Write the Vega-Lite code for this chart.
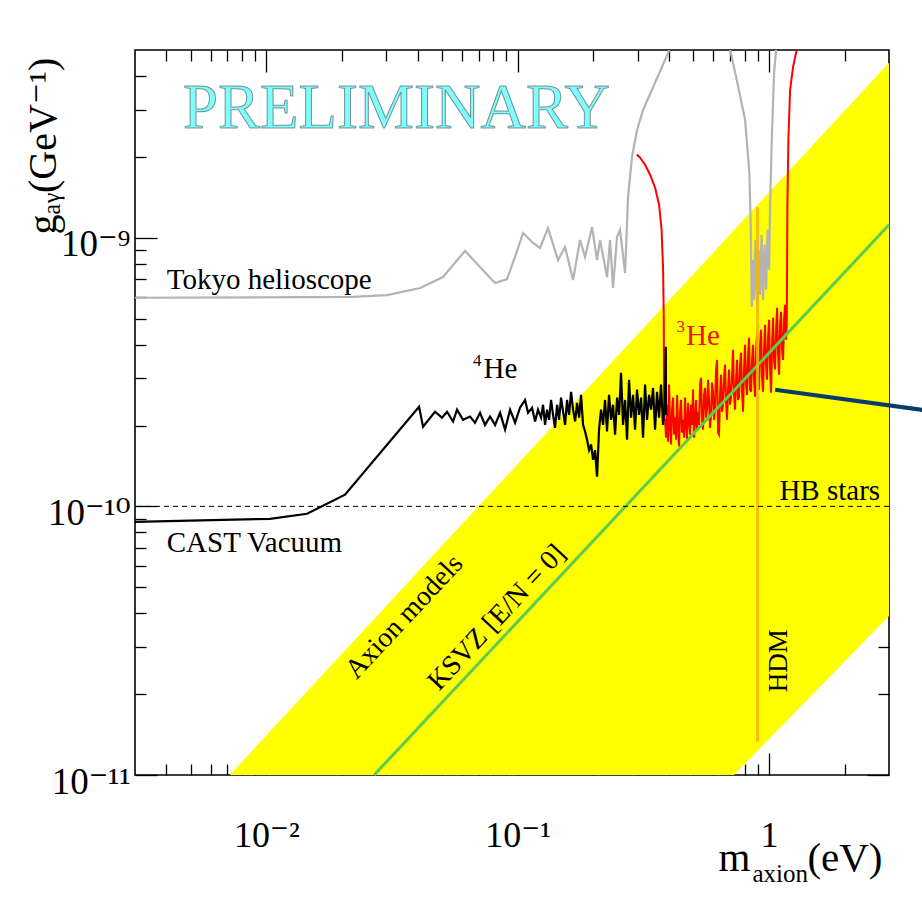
{
  "$schema": "https://vega.github.io/schema/vega-lite/v6.json",
  "width": 754,
  "height": 725,
  "autosize": {"type": "none"},
  "padding": {"left": 135, "top": 50, "right": 33, "bottom": 124},
  "background": "white",
  "config": {
    "font": "Liberation Serif, DejaVu Serif, serif",
    "view": {"stroke": "#000000", "strokeWidth": 1.6},
    "axis": {"tickColor": "#000000", "tickWidth": 1.3, "domain": false, "grid": false, "labelColor": "#000000", "titleColor": "#000000", "titleFontWeight": "normal", "labelOverlap": false, "labelFlush": false, "labelBound": false}
  },
  "datasets": {
    "band": [
      {"m": 0.00715, "lo": 1e-11, "hi": 1e-11},
      {"m": 0.7246, "lo": 1e-11, "hi": 1.066e-9},
      {"m": 3, "lo": 3.91e-11, "hi": 4.48e-9}
    ],
    "ksvz": [
      {"m": 0.02683, "g": 1e-11},
      {"m": 3, "g": 1.117e-9}
    ],
    "tokyo1": [
      {"m": 0.003, "g": 5.98e-10}, {"m": 0.0221, "g": 6.02e-10}, {"m": 0.0302, "g": 6.12e-10}, {"m": 0.0409, "g": 6.5e-10}, {"m": 0.0504, "g": 7.14e-10}, {"m": 0.0617, "g": 8.93e-10}, {"m": 0.0812, "g": 6.78e-10}, {"m": 0.0907, "g": 7.02e-10}, {"m": 0.0975, "g": 8.48e-10}, {"m": 0.105, "g": 1.042e-9}, {"m": 0.115, "g": 9.56e-10}, {"m": 0.1226, "g": 9.16e-10}, {"m": 0.1319, "g": 1.087e-9}, {"m": 0.1446, "g": 8.26e-10}, {"m": 0.1542, "g": 9.24e-10}, {"m": 0.166, "g": 6.96e-10}, {"m": 0.1769, "g": 9.81e-10}, {"m": 0.1852, "g": 8.48e-10}, {"m": 0.1975, "g": 1.096e-9}, {"m": 0.2068, "g": 8.26e-10}, {"m": 0.2126, "g": 9.81e-10}, {"m": 0.2266, "g": 7.14e-10}, {"m": 0.2329, "g": 9.81e-10}, {"m": 0.2394, "g": 6.5e-10}, {"m": 0.2483, "g": 1.006e-9}, {"m": 0.2553, "g": 1.069e-9}, {"m": 0.2673, "g": 7.39e-10}, {"m": 0.2747, "g": 1.418e-9}, {"m": 0.2849, "g": 2.0e-9}, {"m": 0.2983, "g": 2.52e-9}, {"m": 0.3151, "g": 2.99e-9}, {"m": 0.3963, "g": 4.87e-9}, {"m": 0.4111, "g": 5.45e-9}
    ],
    "tokyo2": [
      {"m": 0.6932, "g": 5.23e-9}, {"m": 0.7437, "g": 3.87e-9}, {"m": 0.8026, "g": 2.75e-9}, {"m": 0.8348, "g": 1.746e-9}, {"m": 0.8456, "g": 1.099e-9}, {"m": 0.8533, "g": 5.53e-10}, {"m": 0.8636, "g": 8.28e-10}, {"m": 0.8715, "g": 5.88e-10}, {"m": 0.8837, "g": 9.83e-10}, {"m": 0.896, "g": 5.63e-10}, {"m": 0.9083, "g": 9.02e-10}, {"m": 0.9209, "g": 6.13e-10}, {"m": 0.9336, "g": 1.026e-9}, {"m": 0.9465, "g": 5.88e-10}, {"m": 0.9596, "g": 9.42e-10}, {"m": 0.9729, "g": 6.4e-10}, {"m": 0.9863, "g": 1.071e-9}, {"m": 1.0, "g": 7.6e-10}, {"m": 1.0092, "g": 1.304e-9}, {"m": 1.025, "g": 2.32e-9}, {"m": 1.0469, "g": 4.11e-9}, {"m": 1.0663, "g": 5.01e-9}, {"m": 1.0761, "g": 5.23e-9}
    ],
    "he4": [
      {"m": 0.003, "g": 8.76e-11}, {"m": 0.01033, "g": 8.99e-11}, {"m": 0.01451, "g": 9.39e-11}, {"m": 0.02055, "g": 1.105e-10}, {"m": 0.04049, "g": 2.35e-10}, {"m": 0.04199, "g": 1.98e-10}, {"m": 0.04686, "g": 2.25e-10}, {"m": 0.04997, "g": 2.14e-10}, {"m": 0.05232, "g": 2.25e-10}, {"m": 0.05528, "g": 2.07e-10}, {"m": 0.05735, "g": 2.29e-10}, {"m": 0.06058, "g": 2.1e-10}, {"m": 0.06458, "g": 2.16e-10}, {"m": 0.06761, "g": 2.05e-10}, {"m": 0.07079, "g": 2.23e-10}, {"m": 0.07411, "g": 2.01e-10}, {"m": 0.07759, "g": 2.16e-10}, {"m": 0.08123, "g": 2.01e-10}, {"m": 0.08505, "g": 2.23e-10}, {"m": 0.08904, "g": 1.93e-10}, {"m": 0.09321, "g": 2.29e-10}, {"m": 0.09757, "g": 2.05e-10}, {"m": 0.1021, "g": 2.33e-10}, {"m": 0.1069, "g": 2.49e-10}, {"m": 0.1099, "g": 2.23e-10}, {"m": 0.114, "g": 2.33e-10}, {"m": 0.1172, "g": 2.07e-10}, {"m": 0.1204, "g": 2.29e-10},
      {"m": 0.1238, "g": 2.14e-10}, {"m": 0.1261, "g": 2.39e-10}, {"m": 0.1284, "g": 2.01e-10}, {"m": 0.1308, "g": 2.29e-10}, {"m": 0.1332, "g": 2.1e-10}, {"m": 0.1357, "g": 2.49e-10}, {"m": 0.1382, "g": 2.19e-10}, {"m": 0.1407, "g": 1.96e-10}, {"m": 0.1434, "g": 2.39e-10}, {"m": 0.146, "g": 2.1e-10}, {"m": 0.1487, "g": 2.54e-10}, {"m": 0.1515, "g": 2.25e-10}, {"m": 0.1543, "g": 2.01e-10}, {"m": 0.1571, "g": 2.49e-10}, {"m": 0.16, "g": 2.19e-10}, {"m": 0.163, "g": 2.67e-10}, {"m": 0.166, "g": 2.29e-10}, {"m": 0.1691, "g": 2.07e-10}, {"m": 0.1722, "g": 2.43e-10}, {"m": 0.1754, "g": 2.14e-10}, {"m": 0.1786, "g": 2.6e-10}, {"m": 0.1819, "g": 2.01e-10}, {"m": 0.1853, "g": 1.9e-10}, {"m": 0.1887, "g": 1.77e-10}, {"m": 0.1922, "g": 1.62e-10}, {"m": 0.1957, "g": 1.7e-10}, {"m": 0.1994, "g": 1.491e-10}, {"m": 0.203, "g": 1.62e-10}, {"m": 0.2068, "g": 1.29e-10}, {"m": 0.2106, "g": 1.93e-10}, {"m": 0.2145, "g": 2.29e-10}, {"m": 0.2185, "g": 2.01e-10}, {"m": 0.2225, "g": 2.49e-10}, {"m": 0.2266, "g": 1.9e-10}, {"m": 0.2308, "g": 2.6e-10}, {"m": 0.2351, "g": 2.1e-10}, {"m": 0.2394, "g": 2.39e-10}, {"m": 0.2439, "g": 1.85e-10}, {"m": 0.2484, "g": 2.54e-10}, {"m": 0.253, "g": 2.19e-10}, {"m": 0.2576, "g": 3.14e-10}, {"m": 0.2624, "g": 2.01e-10}, {"m": 0.2673, "g": 2.49e-10}, {"m": 0.2722, "g": 1.77e-10}, {"m": 0.2772, "g": 2.96e-10}, {"m": 0.2824, "g": 2.14e-10}, {"m": 0.2876, "g": 2.6e-10}, {"m": 0.2929, "g": 1.93e-10}, {"m": 0.2983, "g": 2.72e-10}, {"m": 0.3038, "g": 2.19e-10}, {"m": 0.3095, "g": 2.54e-10}, {"m": 0.3152, "g": 1.8e-10}, {"m": 0.321, "g": 2.84e-10}, {"m": 0.3269, "g": 2.1e-10}, {"m": 0.333, "g": 2.6e-10}, {"m": 0.3391, "g": 2.29e-10}, {"m": 0.3454, "g": 2.76e-10}, {"m": 0.3518, "g": 1.93e-10}, {"m": 0.3583, "g": 2.67e-10}, {"m": 0.3649, "g": 2.14e-10}, {"m": 0.3716, "g": 2.84e-10}, {"m": 0.3785, "g": 2.01e-10}, {"m": 0.3855, "g": 2.49e-10}, {"m": 0.3881, "g": 3.93e-10}, {"m": 0.3891, "g": 2.19e-10}
    ],
    "he3": [
      {"m": 0.2975, "g": 2.04e-9}, {"m": 0.3067, "g": 1.986e-9}, {"m": 0.3211, "g": 1.87e-9}, {"m": 0.3362, "g": 1.716e-9}, {"m": 0.352, "g": 1.535e-9}, {"m": 0.365, "g": 1.327e-9}, {"m": 0.3735, "g": 1.071e-9}, {"m": 0.3787, "g": 7.6e-10}, {"m": 0.3811, "g": 4.95e-10}, {"m": 0.3822, "g": 2.1e-10},
      {"m": 0.3856, "g": 2.1e-10}, {"m": 0.3891, "g": 1.8e-10}, {"m": 0.3927, "g": 2.39e-10}, {"m": 0.3963, "g": 1.739e-10}, {"m": 0.4, "g": 2.84e-10}, {"m": 0.4037, "g": 2.01e-10}, {"m": 0.4074, "g": 1.7e-10}, {"m": 0.4111, "g": 2.29e-10}, {"m": 0.4149, "g": 2.54e-10}, {"m": 0.4187, "g": 1.85e-10}, {"m": 0.4226, "g": 2.14e-10}, {"m": 0.4265, "g": 1.77e-10}, {"m": 0.4304, "g": 2.6e-10}, {"m": 0.4344, "g": 1.96e-10}, {"m": 0.4383, "g": 1.67e-10}, {"m": 0.4424, "g": 2.25e-10}, {"m": 0.4464, "g": 2.49e-10}, {"m": 0.4505, "g": 1.88e-10}, {"m": 0.4547, "g": 2.1e-10}, {"m": 0.4589, "g": 1.8e-10}, {"m": 0.4631, "g": 2.54e-10}, {"m": 0.4674, "g": 2.01e-10}, {"m": 0.4716, "g": 1.77e-10}, {"m": 0.476, "g": 2.43e-10}, {"m": 0.4803, "g": 2.14e-10}, {"m": 0.4848, "g": 1.85e-10}, {"m": 0.4892, "g": 2.39e-10}, {"m": 0.4937, "g": 2.01e-10}, {"m": 0.4982, "g": 2.72e-10}, {"m": 0.5028, "g": 1.8e-10}, {"m": 0.5075, "g": 2.1e-10}, {"m": 0.5121, "g": 2.49e-10}, {"m": 0.5168, "g": 1.93e-10}, {"m": 0.5216, "g": 2.25e-10}, {"m": 0.5264, "g": 2.01e-10}, {"m": 0.5313, "g": 2.84e-10}, {"m": 0.5361, "g": 3.01e-10}, {"m": 0.5411, "g": 2.07e-10}, {"m": 0.546, "g": 1.93e-10}, {"m": 0.5511, "g": 2.6e-10}, {"m": 0.5561, "g": 2.76e-10}, {"m": 0.5612, "g": 2.14e-10}, {"m": 0.5664, "g": 2.29e-10}, {"m": 0.5716, "g": 2.96e-10}, {"m": 0.5769, "g": 2.49e-10}, {"m": 0.5822, "g": 1.96e-10}, {"m": 0.5875, "g": 2.19e-10}, {"m": 0.5929, "g": 2.89e-10}, {"m": 0.5984, "g": 2.67e-10}, {"m": 0.6039, "g": 2.1e-10}, {"m": 0.6095, "g": 2.33e-10}, {"m": 0.6151, "g": 3.23e-10}, {"m": 0.6207, "g": 3.51e-10}, {"m": 0.6265, "g": 1.88e-10}, {"m": 0.6322, "g": 1.85e-10}, {"m": 0.638, "g": 2.6e-10}, {"m": 0.6439, "g": 3.09e-10}, {"m": 0.6498, "g": 2.25e-10}, {"m": 0.6558, "g": 2.39e-10}, {"m": 0.6618, "g": 3.01e-10}, {"m": 0.6679, "g": 3.37e-10}, {"m": 0.6741, "g": 2.43e-10}, {"m": 0.6803, "g": 2.1e-10}, {"m": 0.6866, "g": 2.72e-10}, {"m": 0.6929, "g": 3.23e-10}, {"m": 0.6992, "g": 2.39e-10}, {"m": 0.7057, "g": 2.54e-10}, {"m": 0.7122, "g": 3.09e-10}, {"m": 0.7187, "g": 3.83e-10}, {"m": 0.7253, "g": 2.6e-10}, {"m": 0.732, "g": 2.29e-10}, {"m": 0.7387, "g": 2.96e-10}, {"m": 0.7455, "g": 3.51e-10}, {"m": 0.7524, "g": 2.49e-10}, {"m": 0.7593, "g": 2.54e-10}, {"m": 0.7663, "g": 3.37e-10}, {"m": 0.7734, "g": 3.73e-10}, {"m": 0.7805, "g": 2.67e-10}, {"m": 0.7877, "g": 2.25e-10}, {"m": 0.7949, "g": 3.23e-10}, {"m": 0.8022, "g": 3.996e-10}, {"m": 0.8096, "g": 2.84e-10}, {"m": 0.8171, "g": 2.6e-10}, {"m": 0.8246, "g": 3.61e-10}, {"m": 0.8322, "g": 4.24e-10}, {"m": 0.8398, "g": 2.72e-10}, {"m": 0.8476, "g": 2.67e-10}, {"m": 0.8554, "g": 3.51e-10}, {"m": 0.8633, "g": 3.996e-10}, {"m": 0.8712, "g": 2.96e-10}, {"m": 0.8793, "g": 2.56e-10}, {"m": 0.8874, "g": 3.83e-10}, {"m": 0.8955, "g": 4.35e-10}, {"m": 0.9038, "g": 3.09e-10}, {"m": 0.9121, "g": 2.72e-10}, {"m": 0.9205, "g": 3.996e-10}, {"m": 0.929, "g": 4.54e-10}, {"m": 0.9375, "g": 3.01e-10}, {"m": 0.9462, "g": 2.67e-10}, {"m": 0.9549, "g": 3.83e-10}, {"m": 0.9637, "g": 4.74e-10}, {"m": 0.9726, "g": 3.37e-10}, {"m": 0.9815, "g": 2.96e-10}, {"m": 0.9906, "g": 4.24e-10}, {"m": 1.0, "g": 4.95e-10}, {"m": 1.0092, "g": 3.23e-10}, {"m": 1.0185, "g": 2.65e-10}, {"m": 1.0279, "g": 3.996e-10}, {"m": 1.0373, "g": 5.04e-10}, {"m": 1.0469, "g": 3.51e-10}, {"m": 1.0565, "g": 3.23e-10}, {"m": 1.0663, "g": 4.54e-10}, {"m": 1.076, "g": 5.49e-10}, {"m": 1.086, "g": 3.67e-10}, {"m": 1.0959, "g": 3.09e-10}, {"m": 1.106, "g": 4.74e-10}, {"m": 1.1162, "g": 5.3e-10}, {"m": 1.1265, "g": 3.83e-10}, {"m": 1.1369, "g": 3.51e-10}, {"m": 1.1473, "g": 4.95e-10}, {"m": 1.1579, "g": 5.63e-10}, {"m": 1.1686, "g": 4.17e-10},
      {"m": 1.1761, "g": 4.83e-10}, {"m": 1.1826, "g": 1.304e-9}, {"m": 1.1935, "g": 2.32e-9}, {"m": 1.2122, "g": 3.556e-9}, {"m": 1.246, "g": 4.33e-9}, {"m": 1.2889, "g": 5.01e-9}, {"m": 1.3045, "g": 5.46e-9}
    ],
    "arrow": [
      {"m": 1.0565, "g": 2.72e-10},
      {"m": 4.3, "g": 2.27e-10}
    ]
  },
  "layer": [
    {
      "data": {"name": "band"},
      "mark": {"type": "area", "color": "#ffff00", "opacity": 1},
      "encoding": {
        "x": {"field": "m", "type": "quantitative", "scale": {"type": "log", "domain": [0.003, 3], "nice": false},
          "axis": {"orient": "bottom", "values": [0.004, 0.005, 0.006, 0.007, 0.008, 0.009, 0.01, 0.02, 0.03, 0.04, 0.05, 0.06, 0.07, 0.08, 0.09, 0.1, 0.2, 0.3, 0.4, 0.5, 0.6, 0.7, 0.8, 0.9, 1, 2],
            "labelExpr": "datum.value == 0.01 ? '10⁻²' : datum.value == 0.1 ? '10⁻¹' : datum.value == 1 ? '1' : ''",
            "tickSize": {"condition": {"test": "datum.value == 0.01 || datum.value == 0.1 || datum.value == 1", "value": -22}, "value": -11},
            "labelFontSize": 36, "labelPadding": 93, "labelBaseline": "alphabetic", "labelAlign": "center",
            "title": "m", "titleFontSize": 41, "titleX": 583, "titleY": 95, "titleAlign": "left", "titleBaseline": "alphabetic", "titleAngle": 0}},
        "y": {"field": "lo", "type": "quantitative", "scale": {"type": "log", "domain": [1e-11, 5e-9], "nice": false},
          "axis": {"orient": "left", "values": [1e-11, 2e-11, 3e-11, 4e-11, 5e-11, 6e-11, 7e-11, 8e-11, 9e-11, 1e-10, 2e-10, 3e-10, 4e-10, 5e-10, 6e-10, 7e-10, 8e-10, 9e-10, 1e-9, 2e-9, 3e-9, 4e-9],
            "labelExpr": "datum.value == 1e-9 ? '10⁻⁹' : datum.value == 1e-10 ? '10⁻¹⁰' : datum.value == 1e-11 ? '10⁻¹¹' : ''",
            "tickSize": {"condition": {"test": "datum.value == 1e-9 || datum.value == 1e-10 || datum.value == 1e-11", "value": -22}, "value": -11},
            "labelFontSize": 37, "labelPadding": 27, "labelAlign": "right", "labelBaseline": "alphabetic", "labelOffset": 18,
            "title": "gₐᵧ(GeV⁻¹)", "titleFontSize": 40, "titleX": -80, "titleY": 184, "titleAngle": -90, "titleAlign": "left", "titleBaseline": "alphabetic"}},
        "y2": {"field": "hi"}
      }
    },
    {
      "data": {"name": "tokyo1"},
      "mark": {"type": "line", "color": "#b3b3b3", "strokeWidth": 2.2, "clip": true},
      "encoding": {
        "x": {"field": "m", "type": "quantitative", "scale": {"type": "log", "domain": [0.003, 3], "nice": false}, "axis": null},
        "y": {"field": "g", "type": "quantitative", "scale": {"type": "log", "domain": [1e-11, 5e-9], "nice": false}, "axis": null}
      }
    },
    {
      "data": {"name": "tokyo2"},
      "mark": {"type": "line", "color": "#b3b3b3", "strokeWidth": 2.2, "clip": true},
      "encoding": {
        "x": {"field": "m", "type": "quantitative", "scale": {"type": "log", "domain": [0.003, 3], "nice": false}, "axis": null},
        "y": {"field": "g", "type": "quantitative", "scale": {"type": "log", "domain": [1e-11, 5e-9], "nice": false}, "axis": null}
      }
    },
    {
      "data": {"name": "he3"},
      "mark": {"type": "line", "color": "#ff0000", "strokeWidth": 2, "clip": true},
      "encoding": {
        "x": {"field": "m", "type": "quantitative", "scale": {"type": "log", "domain": [0.003, 3], "nice": false}, "axis": null},
        "y": {"field": "g", "type": "quantitative", "scale": {"type": "log", "domain": [1e-11, 5e-9], "nice": false}, "axis": null}
      }
    },
    {
      "data": {"name": "he4"},
      "mark": {"type": "line", "color": "#000000", "strokeWidth": 2.2, "clip": true},
      "encoding": {
        "x": {"field": "m", "type": "quantitative", "scale": {"type": "log", "domain": [0.003, 3], "nice": false}, "axis": null},
        "y": {"field": "g", "type": "quantitative", "scale": {"type": "log", "domain": [1e-11, 5e-9], "nice": false}, "axis": null}
      }
    },
    {
      "data": {"name": "ksvz"},
      "mark": {"type": "line", "color": "#5ccb4f", "strokeWidth": 3},
      "encoding": {
        "x": {"field": "m", "type": "quantitative", "scale": {"type": "log", "domain": [0.003, 3], "nice": false},
          "axis": {"orient": "top", "values": [0.004, 0.005, 0.006, 0.007, 0.008, 0.009, 0.01, 0.02, 0.03, 0.04, 0.05, 0.06, 0.07, 0.08, 0.09, 0.1, 0.2, 0.3, 0.4, 0.5, 0.6, 0.7, 0.8, 0.9, 1, 2],
            "labels": false,
            "title": "(eV)", "titleFontSize": 41, "titleX": 747, "titleY": 820, "titleAlign": "right", "titleBaseline": "alphabetic", "titleAngle": 0,
            "tickSize": {"condition": {"test": "datum.value == 0.01 || datum.value == 0.1 || datum.value == 1", "value": -22}, "value": -11}}},
        "y": {"field": "g", "type": "quantitative", "scale": {"type": "log", "domain": [1e-11, 5e-9], "nice": false},
          "axis": {"orient": "right", "values": [1e-11, 2e-11, 3e-11, 4e-11, 5e-11, 6e-11, 7e-11, 8e-11, 9e-11, 1e-10, 2e-10, 3e-10, 4e-10, 5e-10, 6e-10, 7e-10, 8e-10, 9e-10, 1e-9, 2e-9, 3e-9, 4e-9],
            "labels": false,
            "title": "axion", "titleFontSize": 25, "titleX": -137, "titleY": 831, "titleAlign": "left", "titleBaseline": "alphabetic", "titleAngle": 0,
            "tickSize": {"condition": {"test": "datum.value == 1e-9 || datum.value == 1e-10 || datum.value == 1e-11", "value": -22}, "value": -11}}}
      }
    },
    {
      "data": {"values": [{"m": 0.9, "g1": 1.33e-11, "g2": 1.3e-9}]},
      "mark": {"type": "rule", "color": "#f2b705", "strokeWidth": 3, "opacity": 0.9},
      "encoding": {
        "x": {"field": "m", "type": "quantitative", "scale": {"type": "log", "domain": [0.003, 3], "nice": false}, "axis": null},
        "y": {"field": "g1", "type": "quantitative", "scale": {"type": "log", "domain": [1e-11, 5e-9], "nice": false}, "axis": null},
        "y2": {"field": "g2"}
      }
    },
    {
      "data": {"values": [{"g": 1e-10}]},
      "mark": {"type": "rule", "color": "#000000", "strokeWidth": 1, "strokeDash": [5, 4]},
      "encoding": {
        "y": {"field": "g", "type": "quantitative", "scale": {"type": "log", "domain": [1e-11, 5e-9], "nice": false}, "axis": null}
      }
    },
    {
      "data": {"name": "arrow"},
      "mark": {"type": "line", "color": "#0b3b6e", "strokeWidth": 4},
      "encoding": {
        "x": {"field": "m", "type": "quantitative", "scale": {"type": "log", "domain": [0.003, 3], "nice": false}, "axis": null},
        "y": {"field": "g", "type": "quantitative", "scale": {"type": "log", "domain": [1e-11, 5e-9], "nice": false}, "axis": null}
      }
    },
    {
      "data": {"values": [{"t": "PRELIMINARY", "m": 0.004657, "g": 2.567e-9}]},
      "mark": {"type": "text", "align": "left", "baseline": "alphabetic", "fontSize": 63, "color": "#80fcfc", "stroke": "#3a3a3a", "strokeWidth": 1, "strokeOpacity": 0.55},
      "encoding": {
        "x": {"field": "m", "type": "quantitative", "scale": {"type": "log", "domain": [0.003, 3], "nice": false}, "axis": null},
        "y": {"field": "g", "type": "quantitative", "scale": {"type": "log", "domain": [1e-11, 5e-9], "nice": false}, "axis": null},
        "text": {"field": "t"}
      }
    },
    {
      "data": {"values": [{"t": "Tokyo helioscope", "m": 0.004012, "g": 6.44e-10}, {"t": "CAST Vacuum", "m": 0.004012, "g": 6.79e-11}, {"t": "He", "m": 0.0731, "g": 3.01e-10}]},
      "mark": {"type": "text", "align": "left", "baseline": "alphabetic", "fontSize": 29, "color": "#000000"},
      "encoding": {
        "x": {"field": "m", "type": "quantitative", "scale": {"type": "log", "domain": [0.003, 3], "nice": false}, "axis": null},
        "y": {"field": "g", "type": "quantitative", "scale": {"type": "log", "domain": [1e-11, 5e-9], "nice": false}, "axis": null},
        "text": {"field": "t"}
      }
    },
    {
      "data": {"values": [{"t": "4", "m": 0.06639, "g": 3.34e-10}]},
      "mark": {"type": "text", "align": "left", "baseline": "alphabetic", "fontSize": 17, "color": "#000000"},
      "encoding": {
        "x": {"field": "m", "type": "quantitative", "scale": {"type": "log", "domain": [0.003, 3], "nice": false}, "axis": null},
        "y": {"field": "g", "type": "quantitative", "scale": {"type": "log", "domain": [1e-11, 5e-9], "nice": false}, "axis": null},
        "text": {"field": "t"}
      }
    },
    {
      "data": {"values": [{"t": "He", "m": 0.4675, "g": 3.996e-10}]},
      "mark": {"type": "text", "align": "left", "baseline": "alphabetic", "fontSize": 29, "color": "#ee1111"},
      "encoding": {
        "x": {"field": "m", "type": "quantitative", "scale": {"type": "log", "domain": [0.003, 3], "nice": false}, "axis": null},
        "y": {"field": "g", "type": "quantitative", "scale": {"type": "log", "domain": [1e-11, 5e-9], "nice": false}, "axis": null},
        "text": {"field": "t"}
      }
    },
    {
      "data": {"values": [{"t": "3", "m": 0.4283, "g": 4.47e-10}]},
      "mark": {"type": "text", "align": "left", "baseline": "alphabetic", "fontSize": 17, "color": "#ee1111"},
      "encoding": {
        "x": {"field": "m", "type": "quantitative", "scale": {"type": "log", "domain": [0.003, 3], "nice": false}, "axis": null},
        "y": {"field": "g", "type": "quantitative", "scale": {"type": "log", "domain": [1e-11, 5e-9], "nice": false}, "axis": null},
        "text": {"field": "t"}
      }
    },
    {
      "data": {"values": [{"t": "HB stars", "m": 2.765, "g": 1.058e-10}]},
      "mark": {"type": "text", "align": "right", "baseline": "alphabetic", "fontSize": 29, "color": "#000000"},
      "encoding": {
        "x": {"field": "m", "type": "quantitative", "scale": {"type": "log", "domain": [0.003, 3], "nice": false}, "axis": null},
        "y": {"field": "g", "type": "quantitative", "scale": {"type": "log", "domain": [1e-11, 5e-9], "nice": false}, "axis": null},
        "text": {"field": "t"}
      }
    },
    {
      "data": {"values": [{"t": "Axion models", "m": 0.03543, "g": 3.87e-11}, {"t": "KSVZ [E/N = 0]", "m": 0.08273, "g": 3.85e-11}]},
      "mark": {"type": "text", "align": "center", "baseline": "middle", "fontSize": 28, "angle": 313, "color": "#000000"},
      "encoding": {
        "x": {"field": "m", "type": "quantitative", "scale": {"type": "log", "domain": [0.003, 3], "nice": false}, "axis": null},
        "y": {"field": "g", "type": "quantitative", "scale": {"type": "log", "domain": [1e-11, 5e-9], "nice": false}, "axis": null},
        "text": {"field": "t"}
      }
    },
    {
      "data": {"values": [{"t": "HDM", "m": 1.096, "g": 2.66e-11}]},
      "mark": {"type": "text", "align": "center", "baseline": "middle", "fontSize": 27, "angle": 270, "color": "#000000"},
      "encoding": {
        "x": {"field": "m", "type": "quantitative", "scale": {"type": "log", "domain": [0.003, 3], "nice": false}, "axis": null},
        "y": {"field": "g", "type": "quantitative", "scale": {"type": "log", "domain": [1e-11, 5e-9], "nice": false}, "axis": null},
        "text": {"field": "t"}
      }
    }
  ],
  "resolve": {"axis": {"x": "independent", "y": "independent"}}
}
